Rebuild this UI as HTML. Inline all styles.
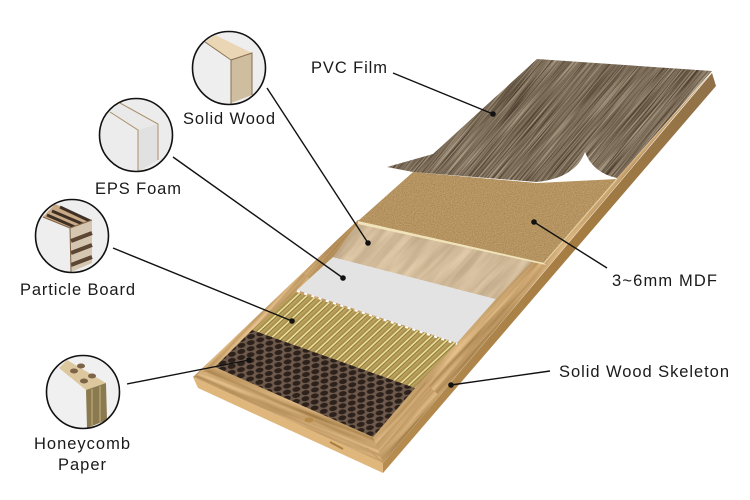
<!DOCTYPE html>
<html><head><meta charset="utf-8"><style>
html,body{margin:0;padding:0;background:#fff;width:750px;height:500px;overflow:hidden}
svg{display:block}
text{font-family:"Liberation Sans",sans-serif;font-size:16.5px;fill:#1a1a1a}
</style></head><body>
<svg width="750" height="500" viewBox="0 0 750 500" xmlns="http://www.w3.org/2000/svg">
<defs>
<filter id="fgrain" x="0" y="0" width="100%" height="100%" color-interpolation-filters="sRGB">
<feTurbulence type="fractalNoise" baseFrequency="0.014 0.9" numOctaves="2" seed="4"/>
<feColorMatrix values="0.7 0 0 0 0.13  0.7 0 0 0 0.07  0.65 0 0 0 0.02  0 0 0 0 1"/>
</filter>
<filter id="vgrain" x="0" y="0" width="100%" height="100%" color-interpolation-filters="sRGB">
<feTurbulence type="fractalNoise" baseFrequency="0.012 0.12" numOctaves="3" seed="9"/>
<feColorMatrix values="0.25 0 0 0 0.7  0.25 0 0 0 0.61  0.25 0 0 0 0.48  0 0 0 0 1"/>
</filter>
<filter id="mdfn" x="0" y="0" width="100%" height="100%" color-interpolation-filters="sRGB">
<feTurbulence type="fractalNoise" baseFrequency="0.9" numOctaves="2" seed="2"/>
<feColorMatrix values="0.22 0 0 0 0.6  0.22 0 0 0 0.47  0.22 0 0 0 0.27  0 0 0 0 1"/>
</filter>
<filter id="frn" x="0" y="0" width="100%" height="100%" color-interpolation-filters="sRGB">
<feTurbulence type="fractalNoise" baseFrequency="0.008 0.2" numOctaves="3" seed="5"/>
<feColorMatrix values="0.4 0 0 0 0.58  0.4 0 0 0 0.43  0.4 0 0 0 0.22  0 0 0 0 1"/>
</filter>
<pattern id="pfilm" width="900" height="900" patternUnits="userSpaceOnUse" patternTransform="rotate(-50)"><rect width="900" height="900" filter="url(#fgrain)"/></pattern>
<pattern id="pven" width="900" height="900" patternUnits="userSpaceOnUse" patternTransform="rotate(-48)"><rect width="900" height="900" filter="url(#vgrain)"/></pattern>
<pattern id="pfr" width="900" height="900" patternUnits="userSpaceOnUse" patternTransform="rotate(-48)"><rect width="900" height="900" filter="url(#frn)"/></pattern>
<pattern id="pfr2" width="900" height="900" patternUnits="userSpaceOnUse" patternTransform="rotate(22)"><rect width="900" height="900" filter="url(#frn)"/></pattern>
<pattern id="pmdf" width="300" height="300" patternUnits="userSpaceOnUse"><rect width="300" height="300" filter="url(#mdfn)"/></pattern>
<clipPath id="c1"><circle cx="229" cy="68" r="36"/></clipPath>
<clipPath id="c2"><circle cx="136" cy="135" r="36"/></clipPath>
<clipPath id="c3"><circle cx="72" cy="236" r="36"/></clipPath>
<clipPath id="c4"><circle cx="83" cy="392" r="36"/></clipPath>
<pattern id="ps" width="7.6" height="40" patternUnits="userSpaceOnUse" patternTransform="matrix(0.942 0.335 0.73 -0.68 0 0)">
<rect width="7.6" height="40" fill="#bba05c"/>
<rect x="0" width="1.8" height="40" fill="#eee09a"/>
<rect x="1.8" width="1" height="40" fill="#84743a"/>
<rect x="5.4" width="2.2" height="40" fill="#a89050"/>
</pattern>
<pattern id="hc" width="9.8" height="13" patternUnits="userSpaceOnUse" patternTransform="matrix(0.942 0.335 0.73 -0.68 0 0)">
<rect width="9.8" height="13" fill="#6e5a4c"/>
<circle cx="4.9" cy="3.25" r="3.3" fill="#2d211b"/>
<circle cx="0" cy="9.75" r="3.3" fill="#2d211b"/>
<circle cx="9.8" cy="9.75" r="3.3" fill="#2d211b"/>
</pattern>
<linearGradient id="side" x1="0" y1="1" x2="1" y2="0">
<stop offset="0" stop-color="#b68c50"/><stop offset=".6" stop-color="#a47c42"/><stop offset="1" stop-color="#8f7048"/>
</linearGradient>
</defs>

<!-- frame -->
<path d="M193 377L358 220L544 263L617 178L712 72L383 463Z" fill="url(#pfr)"/>
<path d="M193 377L215 367L373 437L383 463Z" fill="url(#pfr2)"/>
<path d="M193 377L198 388L383 473L383 463Z" fill="#dfb67c"/>
<path d="M383 463L383 473L716 86L712 73Z" fill="url(#side)"/>
<path d="M367 448L383 463" stroke="#c49a62" stroke-width="1"/>
<ellipse cx="309" cy="420" rx="4.5" ry="2.5" fill="#b88a4b"/>
<path d="M330 442L343 449" stroke="#a87d40" stroke-width="2"/>

<!-- layers -->
<path d="M252 330L295 292L457 343L415 388Z" fill="url(#ps)"/>
<path d="M215 367L252 330L415 388L373 437Z" fill="url(#hc)"/>
<path d="M297 290L333 257L496 299L457 343Z" fill="#e3e3e3"/>
<path d="M297 291L457 344" stroke="#fff" stroke-width="2" stroke-dasharray="3 4.6"/>
<path d="M358 223L532 262L496 299L333 257Z" fill="url(#pven)"/>
<path d="M413 172L537 183L617 179L544 263L358 221Z" fill="url(#pmdf)"/>
<path d="M358 221L544 263L546 265L358 224Z" fill="#f1e4bb"/>
<path d="M544 263L617 179" stroke="#e2cfa3" stroke-width="1.2"/>
<path d="M537 59L712 71L617 178Q593 173 585 152Q575 178 537 182L413 172L387 167L433 154Z" fill="url(#pfilm)"/>

<!-- callout circles -->
<g clip-path="url(#c1)">
<path d="M190 30H270V106H190Z" fill="#eeeeee"/>
<path d="M205 42L215 35L252 53L231 59Z" fill="#ead6b4"/>
<path d="M231 59L252 53L252 95L231 103Z" fill="#cfbd9f"/>
<path d="M205 42L231 60L231 104M231 60L252 53L252 95" fill="none" stroke="#8a6f4c" stroke-width="1"/>
</g>
<g clip-path="url(#c2)">
<path d="M97 97H177V173H97Z" fill="#ececec"/>
<path d="M110 112L120 103L158 124L138 130Z" fill="#e9e9e9"/>
<path d="M138 130L158 124L158 160L138 172Z" fill="#e1e1e1"/>
<path d="M110 112L138 130L138 172M120 103L158 124L158 160" fill="none" stroke="#ab8f68" stroke-width="1"/>
</g>
<g clip-path="url(#c3)">
<path d="M33 198H113V274H33Z" fill="#eeeeee"/>
<path d="M43 217L55 204L92 220L70 228Z" fill="#c9a986"/>
<path d="M52 211L85 225M60 207L90 221M47 215L77 228" stroke="#3f3026" stroke-width="3"/>
<path d="M70 228L92 220L92 263L71 272Z" fill="#d4c6b1"/>
<path d="M71 241L92 233M71 253L92 245M71 265L92 257" stroke="#5b4533" stroke-width="4"/>
<path d="M43 217L70 228L71 272M70 228L92 220" fill="none" stroke="#7e6346" stroke-width="1"/>
</g>
<g clip-path="url(#c4)">
<path d="M44 354H124V430H44Z" fill="#f0f0f0"/>
<path d="M59 368L67 360L106 383L86 390Z" fill="#dcc79e"/>
<ellipse cx="74" cy="371" rx="4" ry="2.5" fill="#7d6347"/>
<ellipse cx="81" cy="366" rx="4" ry="2.5" fill="#7d6347"/>
<ellipse cx="84" cy="381" rx="4" ry="2.5" fill="#7d6347"/>
<ellipse cx="92" cy="376" rx="4" ry="2.5" fill="#7d6347"/>
<path d="M86 390L106 383L107 420L87 428Z" fill="#8b7a50"/>
<path d="M92 389L92 426M100 386L100 423" stroke="#a89768" stroke-width="2"/>
</g>
<g fill="none" stroke="#111" stroke-width="1.6">
<circle cx="229" cy="68" r="36.5"/><circle cx="136" cy="135" r="36.5"/><circle cx="72" cy="236" r="36.5"/><circle cx="83" cy="392" r="36.5"/>
</g>

<!-- leaders -->
<g stroke="#111" stroke-width="1.4" fill="none">
<path d="M393 73L493 114"/><path d="M267 88L368 243"/><path d="M173 157L343 278"/>
<path d="M113 248L292 321"/><path d="M127 384L249 360"/><path d="M534 222L607 268"/><path d="M451 385L550 371"/>
</g>
<g fill="#111">
<circle cx="493" cy="114" r="2.8"/><circle cx="368" cy="243" r="2.8"/><circle cx="343" cy="278" r="2.8"/>
<circle cx="292" cy="321" r="2.8"/><circle cx="249" cy="360" r="2.8"/><circle cx="534" cy="222" r="2.8"/><circle cx="451" cy="385" r="2.8"/>
</g>

<!-- labels -->
<text x="311" y="73" textLength="76" lengthAdjust="spacing">PVC Film</text>
<text x="183" y="124" textLength="92" lengthAdjust="spacing">Solid Wood</text>
<text x="95" y="194" textLength="86" lengthAdjust="spacing">EPS Foam</text>
<text x="20" y="295" textLength="115" lengthAdjust="spacing">Particle Board</text>
<text x="34" y="449" textLength="96" lengthAdjust="spacing">Honeycomb</text>
<text x="58" y="470" textLength="48" lengthAdjust="spacing">Paper</text>
<text x="612" y="286" textLength="105" lengthAdjust="spacing">3~6mm MDF</text>
<text x="559" y="377" textLength="170" lengthAdjust="spacing">Solid Wood Skeleton</text>
</svg>
</body></html>
